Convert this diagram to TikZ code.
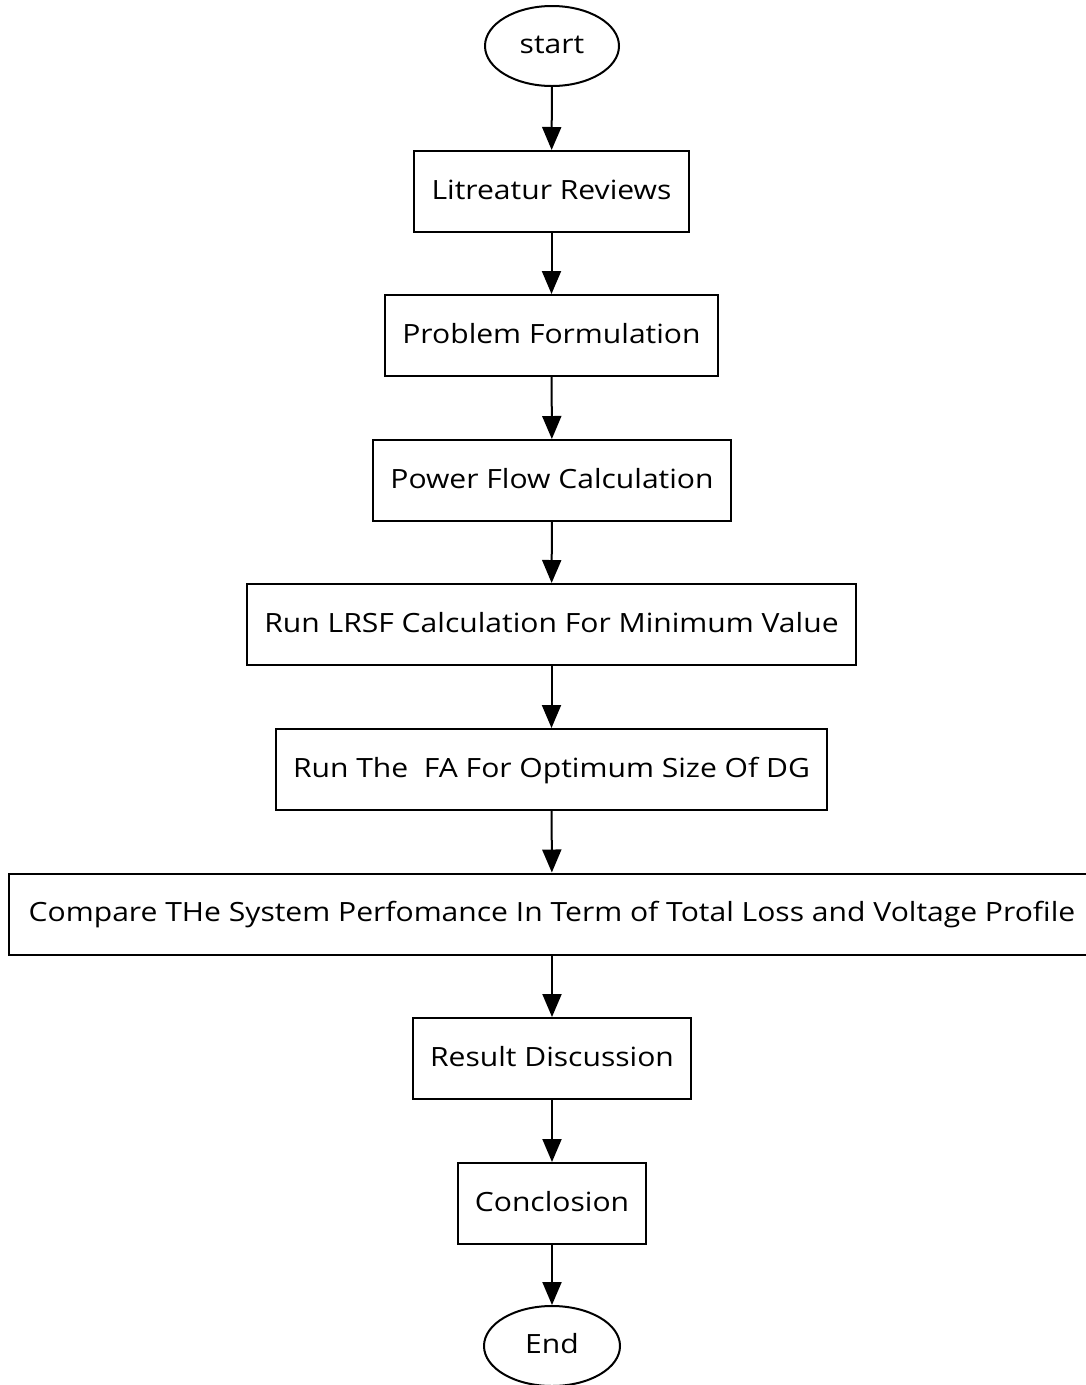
\documentclass[tikz,border=0pt]{standalone}
\usepackage{fontspec}
\setmainfont{Open Sans}[FakeStretch=1.135]
\usetikzlibrary{arrows.meta,shapes.geometric}
\begin{document}
\begin{tikzpicture}[x=1pt,y=-1pt,
  every node/.style={font=\fontsize{26.5pt}{32pt}\selectfont, inner sep=0pt,
    text height=19pt, text depth=4pt, line width=2pt, draw=black},
  stepbox/.style={rectangle, minimum height=81pt},
  terminal/.style={ellipse, minimum width=134pt, minimum height=80pt},
  flow/.style={line width=2pt, -{Triangle[length=23pt,width=19pt]}}]
\useasboundingbox (0,0) rectangle (1086,1385);
\clip (0,0) rectangle (1086,1385);
\fill[white] (0,0) rectangle (1086,1385);

\node[terminal] (start) at (552,46) {start};
\node[stepbox, minimum width=275pt] (lit) at (551.5,191.5) {Litreatur Reviews};
\node[stepbox, minimum width=333pt] (prob) at (551.5,335.5) {Problem Formulation};
\node[stepbox, minimum width=358pt] (pf) at (552,480.5) {Power Flow Calculation};
\node[stepbox, minimum width=609pt] (lrsf) at (551.5,624.5) {Run LRSF Calculation For Minimum Value};
\node[stepbox, minimum width=551pt] (fa) at (551.5,769.5) {Run The~~FA For Optimum Size Of DG};
\node[stepbox, minimum width=1086pt] (cmp) at (552,914) {Compare THe System Perfomance In Term of Total Loss and Voltage Profile};
\node[stepbox, minimum width=278pt] (res) at (552,1058.5) {Result Discussion};
\node[stepbox, minimum width=188pt] (con) at (552,1203.5) {Conclosion};
\node[terminal, minimum width=136pt] (end) at (552,1346) {End};

\draw[flow] (start) -- (lit);
\draw[flow] (lit) -- (prob);
\draw[flow] (prob) -- (pf);
\draw[flow] (pf) -- (lrsf);
\draw[flow] (lrsf) -- (fa);
\draw[flow] (fa) -- (cmp);
\draw[flow] (cmp) -- (res);
\draw[flow] (res) -- (con);
\draw[flow] (con) -- (end);
\end{tikzpicture}
\end{document}
